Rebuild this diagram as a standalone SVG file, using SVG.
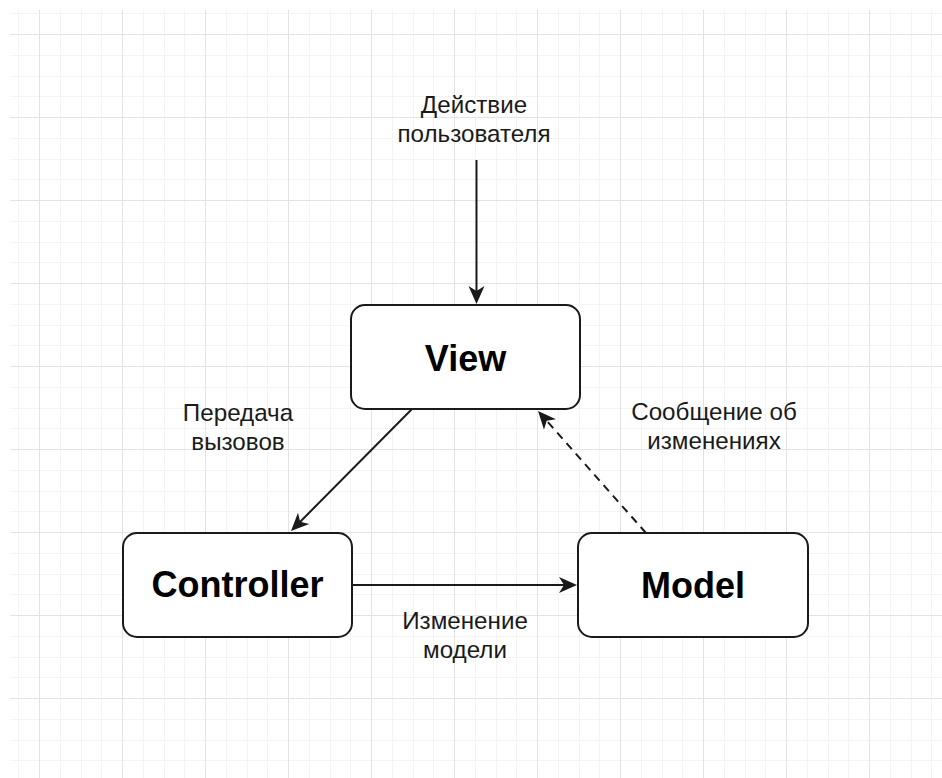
<svg xmlns="http://www.w3.org/2000/svg" width="942" height="778" viewBox="0 0 942 778">
  <style>
    .box { fill: #ffffff; stroke: #1a1a1a; stroke-width: 2; }
    .title { font-family: "Liberation Sans", Arial, sans-serif; font-weight: bold; font-size: 36px; fill: #000; text-anchor: middle; }
    .lbl { font-family: "Liberation Sans", Arial, sans-serif; font-size: 24.2px; fill: #1a1a1a; text-anchor: middle; }
    .edge { stroke: #1a1a1a; stroke-width: 2; fill: none; }
    .dash { stroke-dasharray: 8 6; }
  </style>
  <defs>
    <pattern id="grid" patternUnits="userSpaceOnUse" x="39" y="34" width="83" height="83">
      <rect x="21" y="0" width="1" height="83" fill="#f4f4f4"/>
      <rect x="42" y="0" width="1" height="83" fill="#f4f4f4"/>
      <rect x="62" y="0" width="1" height="83" fill="#f4f4f4"/>
      <rect x="0" y="21" width="83" height="1" fill="#f4f4f4"/>
      <rect x="0" y="42" width="83" height="1" fill="#f4f4f4"/>
      <rect x="0" y="62" width="83" height="1" fill="#f4f4f4"/>
      <rect x="0" y="0" width="1" height="83" fill="#e3e3e3"/>
      <rect x="0" y="0" width="83" height="1" fill="#e3e3e3"/>
    </pattern>
    <marker id="arr" markerUnits="userSpaceOnUse" viewBox="0 0 20 20" markerWidth="20" markerHeight="20" refX="14" refY="10" orient="auto">
      <path d="M18,10 L0,2 L5,10 L0,18 Z" fill="#1a1a1a" stroke="none"/>
    </marker>
  </defs>
  <rect x="0" y="0" width="942" height="778" fill="#ffffff"/>
  <rect x="10" y="10" width="932" height="768" fill="url(#grid)"/>

  <g id="connectors">
    <line class="edge" x1="476.5" y1="160" x2="476.5" y2="300" marker-end="url(#arr)"/>
    <line class="edge" x1="412" y1="409" x2="293.8" y2="528.2" marker-end="url(#arr)"/>
    <line class="edge" x1="352" y1="585" x2="573" y2="585" marker-end="url(#arr)"/>
    <line class="edge dash" x1="646" y1="533" x2="540.7" y2="414" marker-end="url(#arr)"/>
    <text class="lbl" x="474" y="113">Действие</text>
    <text class="lbl" x="474" y="142">пользователя</text>
    <text class="lbl" x="238" y="421">Передача</text>
    <text class="lbl" x="238" y="450">вызовов</text>
    <text class="lbl" x="714" y="420">Сообщение об</text>
    <text class="lbl" x="714" y="449">изменениях</text>
    <text class="lbl" x="465" y="629">Изменение</text>
    <text class="lbl" x="465" y="658">модели</text>
  </g>

  <g id="view">
    <rect class="box" x="351" y="305" width="229" height="104" rx="14"/>
    <text class="title" x="465.5" y="371">View</text>
  </g>
  <g id="controller">
    <rect class="box" x="123" y="533" width="229" height="104" rx="14"/>
    <text class="title" x="237.5" y="597">Controller</text>
  </g>
  <g id="model">
    <rect class="box" x="578" y="533" width="230" height="104" rx="14"/>
    <text class="title" x="693" y="598">Model</text>
  </g>
</svg>
